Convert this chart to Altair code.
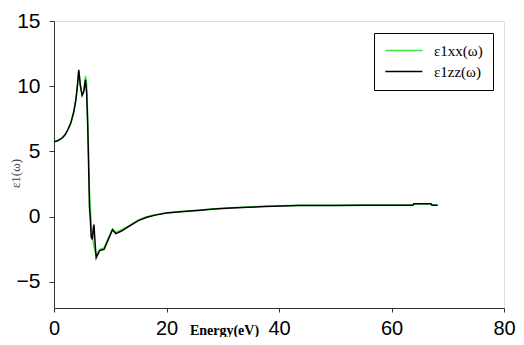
import altair as alt
import pandas as pd

# black curve (ε1zz)
zz_x = [0, 0.5, 1.0, 1.5, 2.0, 2.5, 3.0, 3.5, 3.9, 4.2, 4.4, 4.7, 5.0, 5.3, 5.6, 5.8,
        6.0, 6.2, 6.3, 6.5, 6.6, 6.8, 7.0, 7.1, 7.3, 7.5, 8.1, 8.9, 9.5, 10.4, 11.0,
        12.0, 13.3, 15.0, 16.5, 18, 20, 22.5, 25.5, 28.5, 31.5, 34.5, 37.5, 40.5,
        43.5, 50, 55, 60, 63.8, 64.0, 67.0, 67.2, 68.2]
zz_y = [5.75, 5.8, 5.9, 6.05, 6.3, 6.7, 7.2, 8.0, 9.0, 10.2, 11.25, 10.0, 9.3, 9.6, 10.5, 9.5,
        6.9, 3.0, 0.8, -0.5, -1.5, -1.75, -0.9, -0.6, -2.0, -3.15, -2.6, -2.5, -1.9, -1.0, -1.3,
        -1.1, -0.75, -0.3, -0.05, 0.12, 0.28, 0.38, 0.48, 0.58, 0.66, 0.72, 0.78, 0.82,
        0.86, 0.86, 0.87, 0.87, 0.87, 1.0, 1.0, 0.87, 0.87]

# green curve (ε1xx)
xx_x = [0, 0.5, 1.0, 1.5, 2.0, 2.5, 3.0, 3.5, 3.9, 4.2, 4.4, 4.7, 5.0, 5.3, 5.6, 5.8,
        6.0, 6.3, 6.6, 6.9, 7.1, 7.5, 8.1, 8.9, 9.5, 10.4, 11.0,
        12.0, 13.3, 15.0, 16.5, 18, 20, 22.5, 25.5, 28.5, 31.5, 34.5, 37.5, 40.5,
        43.5, 50, 55, 60, 63.8, 64.0, 67.0, 67.2, 68.2]
xx_y = [5.75, 5.8, 5.9, 6.05, 6.3, 6.7, 7.2, 8.0, 9.0, 10.2, 11.1, 10.0, 9.3, 9.7, 10.8, 10.2,
        7.5, 2.0, -0.5, -1.8, -2.3, -3.0, -2.5, -2.4, -1.8, -0.95, -1.2,
        -1.0, -0.7, -0.25, 0.0, 0.15, 0.3, 0.4, 0.5, 0.6, 0.68, 0.74, 0.8, 0.84,
        0.88, 0.88, 0.89, 0.89, 0.89, 0.98, 0.98, 0.89, 0.89]

series_names = ["ε1xx(ω)", "ε1zz(ω)"]
series_colors = ["#3ee83e", "#000000"]

x_ticks = [0, 20, 40, 60, 80]
y_ticks = [-5, 0, 5, 10, 15]

df = pd.concat([
    pd.DataFrame({"energy": xx_x, "eps": xx_y, "series": series_names[0], "order": range(len(xx_x))}),
    pd.DataFrame({"energy": zz_x, "eps": zz_y, "series": series_names[1], "order": range(len(zz_x))}),
])

chart = alt.Chart(df).mark_line(strokeWidth=1.5, interpolate="linear").encode(
    x=alt.X("energy:Q",
            scale=alt.Scale(domain=[0, 80], nice=False),
            axis=alt.Axis(values=x_ticks, title="Energy(eV)", grid=False,
                          labelFont="Liberation Sans", labelFontSize=20, labelColor="#000",
                          labelPadding=6, tickSize=4, tickColor="#333", domainColor="#333",
                          labelBaseline="top", labelFlush=False,
                          titleFont="Liberation Serif", titleFontSize=14, titleFontWeight="bold",
                          titleColor="#000", titleX=170, titleY=26, titleBaseline="alphabetic",
                          titleAngle=0)),
    y=alt.Y("eps:Q",
            scale=alt.Scale(domain=[-7, 15], nice=False, zero=False),
            axis=alt.Axis(values=y_ticks, title="ε1(ω)", grid=False,
                          labelFont="Liberation Sans", labelFontSize=21, labelColor="#000",
                          labelPadding=9, tickSize=5, tickColor="#333", domainColor="#333",
                          labelFlush=False,
                          titleFont="Liberation Serif", titleFontSize=13, titleFontWeight="normal",
                          titleColor="#444", titleX=-39, titleY=152, titleBaseline="middle")),
    color=alt.Color("series:N",
                    scale=alt.Scale(domain=series_names, range=series_colors),
                    legend=alt.Legend(title=None, orient="none", legendX=320, legendY=12,
                                      symbolType="M-1,0H5", symbolSize=152, symbolStrokeWidth=1.5,
                                      labelFont="Liberation Serif", labelFontSize=15,
                                      labelColor="#000", labelOffset=35,
                                      strokeColor="#000", fillColor="#fff", padding=10,
                                      rowPadding=5)),
    order="order:Q",
).properties(
    width=450,
    height=287,
    autosize=alt.AutoSizeParams(type="none"),
    padding={"left": 46, "top": 13, "right": 12, "bottom": 29},
).configure_view(
    stroke="#000", strokeWidth=1
).configure(background="white")

chart.save("out.html", embed_options={"renderer": "svg", "actions": False})
